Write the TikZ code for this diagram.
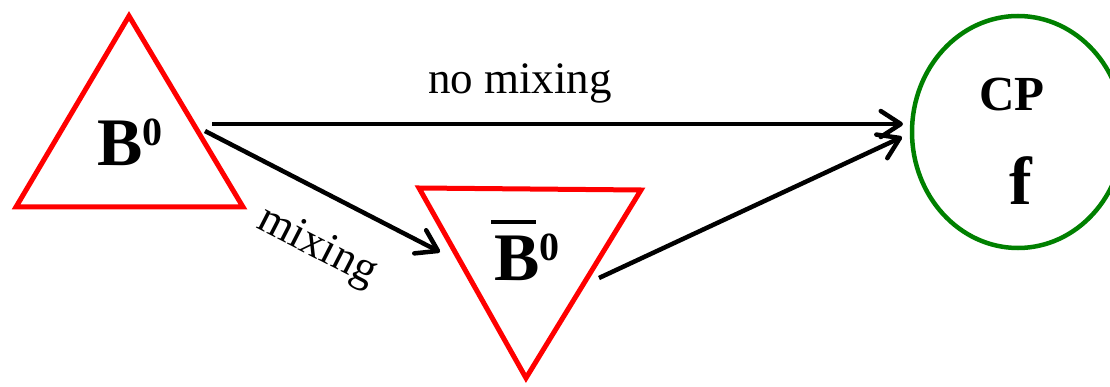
\documentclass[tikz,border=0pt]{standalone}
\usepackage{fontspec}
\setmainfont{Liberation Serif}
\usetikzlibrary{arrows.meta}
\begin{document}
\begin{tikzpicture}[x=1pt,y=-1pt,
  tri/.style={draw=red,line width=5pt,line join=miter},
  conn/.style={line width=4.5pt,-{Straight Barb[length=20pt,width=26pt,line width=4.5pt,round]}},
  lbl/.style={font=\fontsize{45}{45}\selectfont,inner sep=0pt}]
\useasboundingbox (0,0) rectangle (1110,387);
\begin{scope}
\clip (0,0) rectangle (1110,387);
% triangles
\draw[tri] (129,16) -- (243,207) -- (16,207) -- cycle;
\draw[tri] (419,188) -- (641,190) -- (526,378) -- cycle;
% ellipse
\draw[draw={rgb,255:red,0;green,128;blue,0},line width=4.5pt] (1018,132) ellipse [x radius=106,y radius=116];
\end{scope}
% node texts
\node[anchor=base,inner sep=0pt] (b0) at (130,166) {\fontsize{68}{68}\selectfont\bfseries B\raisebox{20pt}{\fontsize{40}{40}\selectfont 0}};
\node[anchor=base,inner sep=0pt] (b0bar) at (527,280) {\fontsize{68}{68}\selectfont\bfseries \makebox[0pt][l]{\hspace{-3pt}\raisebox{56pt}{\rule{45pt}{4pt}}}B\raisebox{20pt}{\fontsize{40}{40}\selectfont 0}};
\node[anchor=base,inner sep=0pt] (cp) at (1012,111) {\fontsize{49}{49}\selectfont\bfseries CP};
\node[anchor=base,inner sep=0pt] (f) at (1021,205) {\fontsize{68}{68}\selectfont\bfseries f};
% connector end points
\coordinate (s1) at (212,124);
\coordinate (t1) at (903,124);
\coordinate (s2) at (205,131);
\coordinate (t2) at (440,252);
\coordinate (s3) at (599,278);
\coordinate (t3) at (902,137);
\draw[conn] (s1) -- (t1);
\draw[conn] (s2) -- (t2);
\draw[conn] (s3) -- (t3);
\node[lbl,anchor=base] (nomix) at (520,94) {no mixing};
\node[lbl,rotate=-27.2] (mix) at (317,248) {mixing};
\end{tikzpicture}
\end{document}
